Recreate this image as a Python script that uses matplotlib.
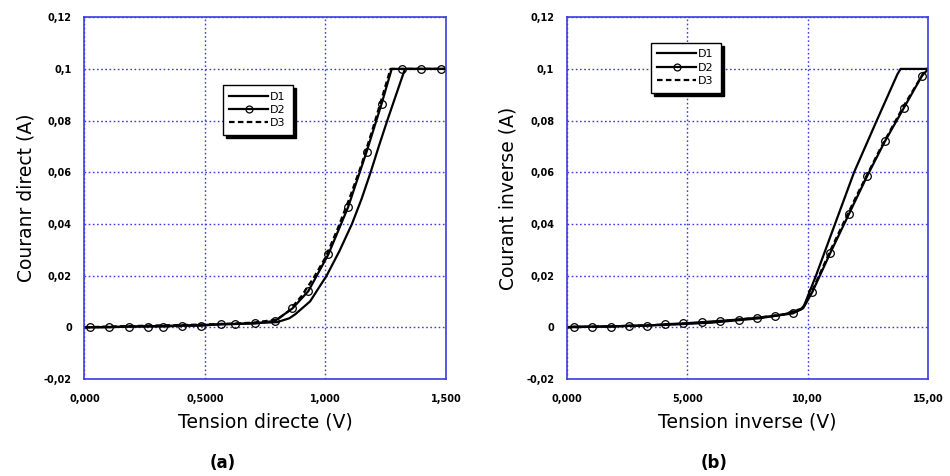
import matplotlib
matplotlib.use("Agg")
import matplotlib.pyplot as plt
from matplotlib.ticker import FixedLocator, FixedFormatter

# ---------------- data: panel (a) forward ----------------
a_d1_x = [0, 0.2, 0.4, 0.6, 0.8, 0.85, 0.874, 0.936, 1.005, 1.058, 1.11, 1.15, 1.1875, 1.222, 1.2565, 1.295, 1.33, 1.5]
a_d1_y = [0, 0.0003, 0.0007, 0.0012, 0.002, 0.0035, 0.005, 0.01, 0.02, 0.0295, 0.04, 0.0497, 0.06, 0.0702, 0.08, 0.0905, 0.1, 0.1]

a_d2_x = [0, 0.021, 0.102, 0.185, 0.265, 0.325, 0.405, 0.485, 0.567, 0.626, 0.709, 0.791,
          0.863, 0.929, 1.012, 1.094, 1.171, 1.233, 1.275, 1.316, 1.395, 1.478, 1.5]
a_d2_y = [0, 0, 0, 0.0003, 0.0003, 0.0003, 0.0006, 0.0006, 0.0013, 0.0013, 0.0015, 0.0025,
          0.0073, 0.014, 0.0282, 0.0465, 0.068, 0.0865, 0.1, 0.1, 0.1, 0.1, 0.1]
a_d2_marks = [1, 2, 3, 4, 5, 6, 7, 8, 9, 10, 11, 12, 13, 14, 15, 16, 17, 19, 20, 21]

a_d3_x = [0, 0.1, 0.2, 0.3, 0.4, 0.5, 0.6, 0.7, 0.8, 0.85, 0.9, 0.95, 1.0, 1.05, 1.1, 1.15, 1.2, 1.27, 1.5]
a_d3_y = [0, 0.0003, 0.0005, 0.0007, 0.0009, 0.0011, 0.0014, 0.0018, 0.003, 0.0065, 0.012, 0.019,
          0.027, 0.038, 0.05, 0.063, 0.078, 0.1, 0.1]

# ---------------- data: panel (b) reverse ----------------
b_d1_x = [0, 2, 4, 6, 8, 9, 9.7, 9.85, 10.34, 11.13, 11.92, 12.86, 13.72, 13.85, 15]
b_d1_y = [0, 0.0004, 0.0009, 0.0018, 0.0035, 0.005, 0.0068, 0.0085, 0.02, 0.04, 0.06, 0.08,
          0.098, 0.1, 0.1]

b_d2_x = [0, 0.29, 1.04, 1.83, 2.59, 3.33, 4.09, 4.84, 5.60, 6.37, 7.13, 7.88, 8.64, 9.39, 9.81,
          10.19, 10.94, 11.70, 12.46, 13.20, 13.99, 14.74, 15.0]
b_d2_y = [0, 0.0003, 0.0003, 0.0003, 0.0006, 0.0006, 0.0012, 0.0015, 0.002, 0.0025, 0.003, 0.0037,
          0.0044, 0.0054, 0.0074, 0.0137, 0.0289, 0.0437, 0.0585, 0.072, 0.085, 0.0974, 0.1]
b_d2_marks = [1, 2, 3, 4, 5, 6, 7, 8, 9, 10, 11, 12, 13, 15, 16, 17, 18, 19, 20, 21]

b_d3_x = [0, 2, 4, 6, 8, 9, 9.8, 10.2, 11, 12, 13, 14, 14.9, 15]
b_d3_y = [0, 0.0004, 0.001, 0.002, 0.0038, 0.005, 0.0074, 0.0145, 0.031, 0.0505, 0.069, 0.086, 0.1, 0.1]

# ---------------- ticks / labels ----------------
y_ticks = [-0.02, 0, 0.02, 0.04, 0.06, 0.08, 0.1, 0.12]
y_ticklabels = ["-0,02", "0", "0,02", "0,04", "0,06", "0,08", "0,1", "0,12"]
a_x_ticks = [0, 0.5, 1.0, 1.5]
a_x_ticklabels = ["0,000", "0,5000", "1,000", "1,500"]
b_x_ticks = [0, 5, 10, 15]
b_x_ticklabels = ["0,000", "5,000", "10,00", "15,00"]
series_names = ["D1", "D2", "D3"]

fig = plt.figure(figsize=(9.5, 4.76), dpi=100)
ax_a = fig.add_axes([0.0889, 0.2038, 0.3805, 0.760])
ax_b = fig.add_axes([0.5965, 0.2038, 0.3807, 0.760])

blue = "#3c3ce0"
grid_blue = "#3a3aee"


def style(ax, xt, xtl, xmax, xlabel, ylabel):
    ax.set_xlim(0, xmax)
    ax.set_ylim(-0.02, 0.12)
    ax.xaxis.set_major_locator(FixedLocator(xt))
    ax.xaxis.set_major_formatter(FixedFormatter(xtl))
    ax.yaxis.set_major_locator(FixedLocator(y_ticks))
    ax.yaxis.set_major_formatter(FixedFormatter(y_ticklabels))
    ax.tick_params(length=0, labelsize=7, pad=9)
    ax.tick_params(axis="x", pad=11)
    for lab in ax.get_xticklabels() + ax.get_yticklabels():
        lab.set_fontweight("bold")
    for s in ax.spines.values():
        s.set_color(blue)
        s.set_linewidth(1.2)
    ax.grid(True, color=grid_blue, linestyle=(0, (1.2, 1.8)), linewidth=1.0)
    ax.set_axisbelow(True)
    ax.set_xlabel(xlabel, fontsize=13.5, labelpad=6)
    ax.set_ylabel(ylabel, fontsize=13.5, labelpad=6)


def draw(ax, d1x, d1y, d2x, d2y, d2m, d3x, d3y):
    ax.plot(d1x, d1y, color="black", lw=1.6, label=series_names[0])
    ax.plot(d2x, d2y, color="black", lw=1.6, marker="o", markersize=5.5,
            markerfacecolor="none", markeredgecolor="black", markeredgewidth=0.9,
            markevery=d2m, label=series_names[1])
    ax.plot(d3x, d3y, color="black", lw=1.6, linestyle=(0, (2.5, 1.5)), label=series_names[2])


draw(ax_a, a_d1_x, a_d1_y, a_d2_x, a_d2_y, a_d2_marks, a_d3_x, a_d3_y)
draw(ax_b, b_d1_x, b_d1_y, b_d2_x, b_d2_y, b_d2_marks, b_d3_x, b_d3_y)

style(ax_a, a_x_ticks, a_x_ticklabels, 1.5, "Tension directe (V)", "Couranr direct (A)")
style(ax_b, b_x_ticks, b_x_ticklabels, 15, "Tension inverse (V)", "Courant inverse (A)")


def legend(ax, anchor):
    lg = ax.legend(loc="upper left", bbox_to_anchor=anchor, frameon=True, fancybox=False,
                   shadow={"color": "black", "alpha": 1.0, "ox": 2.5, "oy": -2.5},
                   fontsize=8, handlelength=3.5, handletextpad=0.2, labelspacing=0.3,
                   borderpad=0.6, borderaxespad=0, markerscale=0.9)
    fr = lg.get_frame()
    fr.set_edgecolor("black")
    fr.set_linewidth(1.0)
    fr.set_facecolor("white")
    fr.set_alpha(1.0)


legend(ax_a, (0.382, 0.813))
legend(ax_b, (0.232, 0.930))

fig.text(223 / 950, 1 - 463 / 476, "(a)", ha="center", va="center", fontsize=12, fontweight="bold")
fig.text(714 / 950, 1 - 463 / 476, "(b)", ha="center", va="center", fontsize=12, fontweight="bold")

fig.savefig("out.png", dpi=100)
